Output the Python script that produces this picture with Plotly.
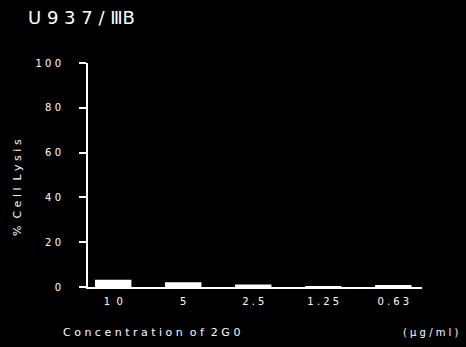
import plotly.graph_objects as go

NB = "\u00a0"
categories = ["10", "5", "2.5", "1.25", "0.63"]
tick_labels = ["1" + NB * 2 + "0", "5", "2" + NB + "." + NB + "5", "1" + NB + "." + NB + "2" + NB + "5", "0" + NB + "." + NB + "6" + NB + "3"]
lysis = [3.2, 2.1, 1.1, 0.3, 0.8]
y_ticks = [0, 20, 40, 60, 80, 100]
y_tick_labels = ["0", "2 0", "4 0", "6 0", "8 0", "1 0 0"]

W, H = 466, 347
L, R, T, B = 88, 44, 63, 60
pw, ph = W - L - R, H - T - B

def px(x):
    return (x - L) / pw

def py(y):
    return (H - B - y) / ph

FONT = "DejaVu Sans"

fig = go.Figure(go.Bar(
    x=list(range(len(categories))), y=lysis, width=0.52,
    marker=dict(color="white", line=dict(width=0)),
))

fig.update_layout(
    width=W, height=H, margin=dict(l=L, r=R, t=T, b=B),
    paper_bgcolor="black", plot_bgcolor="black",
    showlegend=False,
    font=dict(family=FONT, color="white", size=10),
    xaxis=dict(
        range=[-0.36, 4.41], tickvals=list(range(len(categories))), ticktext=tick_labels,
        showline=True, linecolor="white", linewidth=2, showgrid=False, zeroline=False,
        ticks="", ticklabelstandoff=4, tickfont=dict(size=10, color="white", family=FONT),
    ),
    yaxis=dict(
        range=[0, 100], tickvals=y_ticks, ticktext=y_tick_labels,
        showline=True, linecolor="white", linewidth=2, showgrid=False, zeroline=False,
        ticks="outside", ticklen=7, tickcolor="white", tickwidth=2,
        ticklabelstandoff=16,
        tickfont=dict(size=10, color="white", family=FONT),
    ),
    annotations=[
        dict(text="U 9 3 7 / ⅢB", x=px(26), y=py(17), xref="paper", yref="paper",
             xanchor="left", yanchor="middle", showarrow=False,
             font=dict(size=18, color="white", family=FONT)),
        dict(text="%  C e l l  L y s i s", x=px(17), y=py(188), xref="paper", yref="paper",
             xanchor="center", yanchor="middle", showarrow=False, textangle=-90,
             font=dict(size=11, color="white", family=FONT)),
        dict(text="C o n c e n t r a t i o n  o f  2 G 0", x=px(151), y=py(332), xref="paper", yref="paper",
             xanchor="center", yanchor="middle", showarrow=False,
             font=dict(size=11, color="white", family=FONT)),
        dict(text="( μ g / m l )", x=px(461), y=py(332), xref="paper", yref="paper",
             xanchor="right", yanchor="middle", showarrow=False,
             font=dict(size=10, color="white", family=FONT)),
    ],
)

fig.write_html("out.html", config={"displayModeBar": False},
               post_script="document.body.style.margin='0';document.body.style.background='black';")
